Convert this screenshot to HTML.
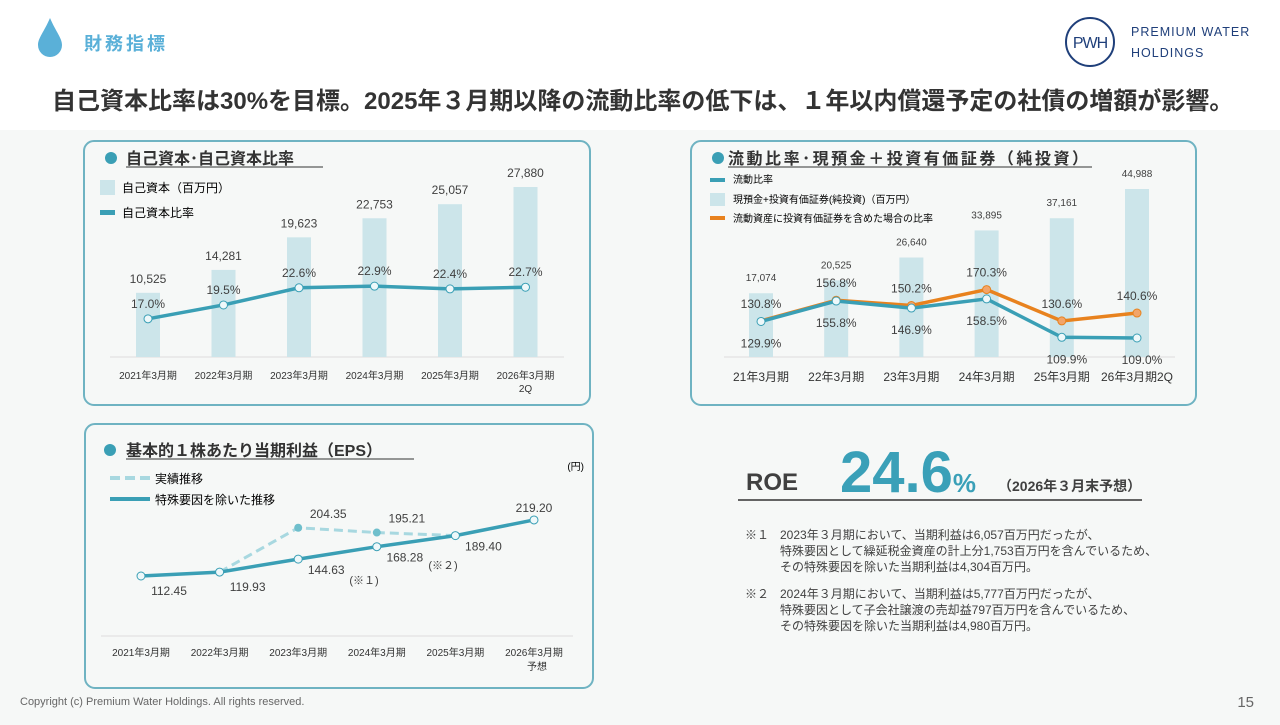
<!DOCTYPE html>
<html><head><meta charset="utf-8"><style>
body{margin:0;width:1280px;height:720px;overflow:hidden;background:#f6f8f7;font-family:"Liberation Sans","Noto Sans CJK JP",sans-serif;color:#404040}
svg text{font-family:"Liberation Sans","Noto Sans CJK JP",sans-serif}
</style></head><body>
<svg id="s" width="1280" height="720" xmlns="http://www.w3.org/2000/svg">
<rect x="0" y="0" width="1280" height="130" fill="#fff"/>
<path d="M50 18 C44 32 38 38 38 45 A12 12 0 0 0 62 45 C62 38 56 32 50 18Z" fill="#5ab0d8"/>
<text x="84" y="50" font-size="18" font-weight="bold" fill="#5ab0d8" letter-spacing="3">財務指標</text>
<g>
<circle cx="1090" cy="42" r="24" fill="none" stroke="#1f3f7a" stroke-width="2"/>
<text x="1090" y="48" font-size="16" text-anchor="middle" fill="#1f3f7a" font-family="Liberation Serif,serif" letter-spacing="-1">PWH</text>
<text x="1131" y="36" font-size="12.5" fill="#1f3f7a" font-family="Liberation Serif,serif" letter-spacing="1">PREMIUM WATER</text>
<text x="1131" y="57" font-size="12.5" fill="#1f3f7a" font-family="Liberation Serif,serif" letter-spacing="1">HOLDINGS</text>
</g>
<text x="52" y="109" font-size="24" font-weight="bold" fill="#333">自己資本比率は30%を目標。2025年３月期以降の流動比率の低下は、１年以内償還予定の社債の増額が影響。</text>

<rect x="84" y="141" width="506" height="264" rx="10" fill="none" stroke="#6fb3c2" stroke-width="2"/>
<rect x="691" y="141" width="505" height="264" rx="10" fill="none" stroke="#6fb3c2" stroke-width="2"/>
<rect x="85" y="424" width="508" height="264" rx="10" fill="none" stroke="#6fb3c2" stroke-width="2"/>

<g>
<circle cx="111" cy="158" r="6" fill="#3a9fb5"/>
<text x="126" y="164" font-size="16" font-weight="bold" fill="#333">自己資本･自己資本比率</text>
<line x1="126" y1="167" x2="323" y2="167" stroke="#333" stroke-width="1"/>
<rect x="100" y="180" width="15" height="15" fill="#cce5ea"/>
<text x="122" y="192" font-size="12">自己資本（百万円）</text>
<rect x="100" y="210" width="15" height="5" fill="#3a9fb5"/>
<text x="122" y="217" font-size="12">自己資本比率</text>
</g>
<g>
<circle cx="718" cy="158" r="6" fill="#3a9fb5"/>
<text x="728" y="164" font-size="16" font-weight="bold" fill="#333" textLength="360">流動比率･現預金＋投資有価証券（純投資）</text>
<line x1="728" y1="167" x2="1092" y2="167" stroke="#333" stroke-width="1"/>
<rect x="710" y="178" width="15" height="4" fill="#3a9fb5"/>
<text x="733" y="183" font-size="10">流動比率</text>
<rect x="710" y="193" width="15" height="13" fill="#cce5ea"/>
<text x="733" y="203" font-size="10">現預金+投資有価証券(純投資)（百万円）</text>
<rect x="710" y="216" width="15" height="4" fill="#e8821e"/>
<text x="733" y="222" font-size="10">流動資産に投資有価証券を含めた場合の比率</text>
</g>
<g>
<circle cx="110" cy="450" r="6" fill="#3a9fb5"/>
<text x="126" y="456" font-size="16" font-weight="bold" fill="#333">基本的１株あたり当期利益（EPS）</text>
<line x1="126" y1="459" x2="414" y2="459" stroke="#333" stroke-width="1"/>
<line x1="110" y1="478" x2="150" y2="478" stroke="#a8d8e0" stroke-width="4" stroke-dasharray="10 5"/>
<text x="155" y="483" font-size="12">実績推移</text>
<line x1="110" y1="499" x2="150" y2="499" stroke="#3a9fb5" stroke-width="4"/>
<text x="155" y="504" font-size="12">特殊要因を除いた推移</text>
<text x="584" y="470" font-size="10" text-anchor="end">(円)</text>
</g>

<g>
<text x="746" y="490" font-size="24" font-weight="bold" fill="#404040">ROE</text>
<text x="840" y="492" font-size="58" font-weight="bold" fill="#3aa0b8">24.6<tspan font-size="26">%</tspan></text>
<text x="998" y="491" font-size="14" font-weight="bold" fill="#404040">（2026年３月末予想）</text>
<line x1="738" y1="500" x2="1142" y2="500" stroke="#333" stroke-width="1.5"/>
</g>
<g font-size="12" fill="#404040">
<text x="745" y="539">※１</text>
<text x="780" y="539">2023年３月期において、当期利益は6,057百万円だったが、</text>
<text x="780" y="555">特殊要因として繰延税金資産の計上分1,753百万円を含んでいるため、</text>
<text x="780" y="571">その特殊要因を除いた当期利益は4,304百万円。</text>
<text x="745" y="598">※２</text>
<text x="780" y="598">2024年３月期において、当期利益は5,777百万円だったが、</text>
<text x="780" y="614">特殊要因として子会社譲渡の売却益797百万円を含んでいるため、</text>
<text x="780" y="630">その特殊要因を除いた当期利益は4,980百万円。</text>
</g>
<text x="20" y="705" font-size="11" fill="#666">Copyright (c) Premium Water Holdings. All rights reserved.</text>
<text x="1254" y="707" font-size="15" fill="#666" text-anchor="end">15</text>
<g id="c1"></g><g id="c2"></g><g id="c3"></g>
</svg>
<script>
const eqCats=["2021年3月期","2022年3月期","2023年3月期","2024年3月期","2025年3月期","2026年3月期"];
const eqCats2=["","","","","","2Q"];
const eqValues=[10525,14281,19623,22753,25057,27880];
const eqRatio=[17.0,19.5,22.6,22.9,22.4,22.7];
const liqCats=["21年3月期","22年3月期","23年3月期","24年3月期","25年3月期","26年3月期2Q"];
const cashValues=[17074,20525,26640,33895,37161,44988];
const curRatio=[129.9,155.8,146.9,158.5,109.9,109.0];
const incRatio=[130.8,156.8,150.2,170.3,130.6,140.6];
const epsCats=["2021年3月期","2022年3月期","2023年3月期","2024年3月期","2025年3月期","2026年3月期"];
const epsCats2=["","","","","","予想"];
const epsAdj=[112.45,119.93,144.63,168.28,189.40,219.20];
const epsActual=[null,119.93,204.35,195.21,189.40,null];

const NS="http://www.w3.org/2000/svg";
function mk(p,t,a,txt){const e=document.createElementNS(NS,t);for(const k in a)e.setAttribute(k,a[k]);if(txt!=null)e.textContent=txt;p.appendChild(e);return e;}
const fmt=v=>v.toLocaleString("en-US");

// Chart 1
(function(){
const g=document.getElementById("c1");
const x=i=>148+i*75.5, base=357, yb=v=>base-v*170/27880, yl=v=>413-v*5.54;
mk(g,"line",{x1:110,y1:base,x2:564,y2:base,stroke:"#ddd"});
eqValues.forEach((v,i)=>{
 const r=mk(g,"rect",{x:x(i)-12,y:yb(v),width:24,height:base-yb(v),fill:"#cce5ea"});
 
 
 mk(g,"text",{x:x(i),y:yb(v)-10,"font-size":12,"text-anchor":"middle",fill:"#404040"},fmt(v));
 mk(g,"text",{x:x(i),y:379,"font-size":10,"text-anchor":"middle",fill:"#333"},eqCats[i]);
 if(eqCats2[i])mk(g,"text",{x:x(i),y:392,"font-size":10,"text-anchor":"middle",fill:"#333"},eqCats2[i]);
});
const l=mk(g,"polyline",{points:eqRatio.map((v,i)=>x(i)+","+yl(v)).join(" "),fill:"none",stroke:"#3a9fb5","stroke-width":3.5});


eqRatio.forEach((v,i)=>{
 mk(g,"circle",{cx:x(i),cy:yl(v),r:4,fill:"#eef8fa",stroke:"#3a9fb5","stroke-width":1});
 mk(g,"text",{x:x(i),y:yl(v)-11,"font-size":12,"text-anchor":"middle",fill:"#404040"},v.toFixed(1)+"%");
});
})();
// Chart 2
(function(){
const g=document.getElementById("c2");
const x=i=>761+i*75.2, base=357, yb=v=>base-v*168/44988, yl=v=>338+(109-v)*0.79;
mk(g,"line",{x1:724,y1:base,x2:1175,y2:base,stroke:"#ddd"});
cashValues.forEach((v,i)=>{
 const r=mk(g,"rect",{x:x(i)-12,y:yb(v),width:24,height:base-yb(v),fill:"#cce5ea"});
 
 
 mk(g,"text",{x:x(i),y:yb(v)-12,"font-size":10,"text-anchor":"middle",fill:"#404040"},fmt(v));
 mk(g,"text",{x:x(i),y:381,"font-size":12,"text-anchor":"middle",fill:"#333"},liqCats[i]);
});
const o=mk(g,"polyline",{points:incRatio.map((v,i)=>x(i)+","+yl(v)).join(" "),fill:"none",stroke:"#e8821e","stroke-width":3.5});


const b=mk(g,"polyline",{points:curRatio.map((v,i)=>x(i)+","+yl(v)).join(" "),fill:"none",stroke:"#3a9fb5","stroke-width":3.5});


incRatio.forEach((v,i)=>{
 if(i>0)mk(g,"circle",{cx:x(i),cy:yl(v),r:4,fill:"#f2a56a",stroke:"#e8821e","stroke-width":1});
 mk(g,"text",{x:x(i),y:yl(v)-13,"font-size":12,"text-anchor":"middle",fill:"#404040"},v.toFixed(1)+"%");
});
curRatio.forEach((v,i)=>{
 mk(g,"circle",{cx:x(i),cy:yl(v),r:4,fill:"#eef8fa",stroke:"#3a9fb5","stroke-width":1});
 mk(g,"text",{x:x(i)+(i>3?5:0),y:yl(v)+26,"font-size":12,"text-anchor":"middle",fill:"#404040"},v.toFixed(1)+"%");
});
})();
// Chart 3
(function(){
const g=document.getElementById("c3");
const x=i=>141+i*78.6, y=v=>576-(v-112.45)*0.525;
mk(g,"line",{x1:101,y1:636,x2:573,y2:636,stroke:"#ddd"});
epsCats.forEach((c,i)=>{
 mk(g,"text",{x:x(i),y:656,"font-size":10,"text-anchor":"middle",fill:"#333"},c);
 if(epsCats2[i])mk(g,"text",{x:x(i)+3,y:670,"font-size":10,"text-anchor":"middle",fill:"#333"},epsCats2[i]);
});
const pts=[];epsActual.forEach((v,i)=>{if(v!=null)pts.push(x(i)+","+y(v));});
const d=mk(g,"polyline",{points:pts.join(" "),fill:"none",stroke:"#a8d8e0","stroke-width":3,"stroke-dasharray":"9 5"});


const s=mk(g,"polyline",{points:epsAdj.map((v,i)=>x(i)+","+y(v)).join(" "),fill:"none",stroke:"#3a9fb5","stroke-width":3.5});


epsActual.forEach((v,i)=>{
 if(v==null||v===epsAdj[i])return;
 mk(g,"circle",{cx:x(i),cy:y(v),r:4,fill:"#6fbfcc"});
 mk(g,"text",{x:x(i)+30,y:y(v)-10,"font-size":12,"text-anchor":"middle",fill:"#404040"},v.toFixed(2));
});
epsAdj.forEach((v,i)=>{
 mk(g,"circle",{cx:x(i),cy:y(v),r:4,fill:"#eef8fa",stroke:"#3a9fb5","stroke-width":1});
 const last=i===epsAdj.length-1;
 mk(g,"text",{x:x(i)+(last?0:28),y:last?y(v)-8:y(v)+(i<2?19:15),"font-size":12,"text-anchor":"middle",fill:"#404040"},v.toFixed(2));
});
mk(g,"text",{x:364,y:584,"font-size":11,"text-anchor":"middle",fill:"#404040"},"(※１)");
mk(g,"text",{x:443,y:569,"font-size":11,"text-anchor":"middle",fill:"#404040"},"(※２)");
})();
</script>
</body></html>
